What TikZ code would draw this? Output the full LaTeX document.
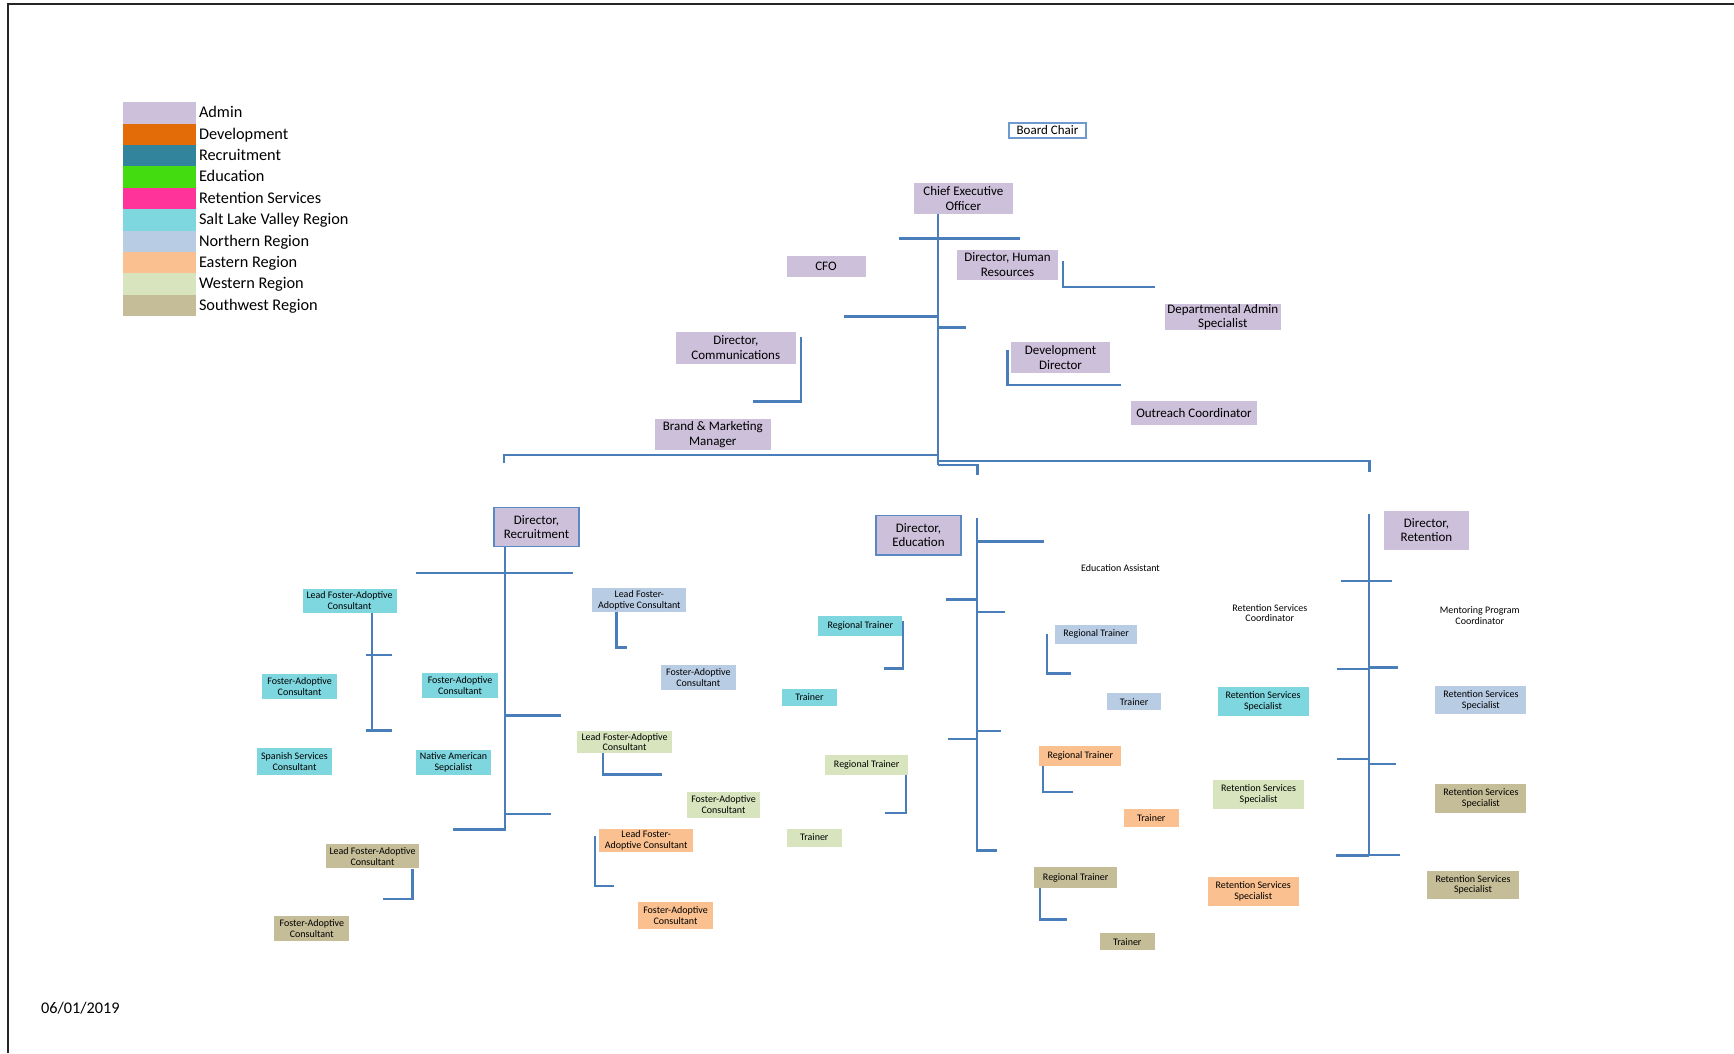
\documentclass[tikz,border=0pt]{standalone}
\usepackage{fontspec}
\setmainfont{Carlito}
\definecolor{admin}{HTML}{CCC0DA}
\definecolor{devel}{HTML}{E36C09}
\definecolor{recr}{HTML}{31849B}
\definecolor{educ}{HTML}{43DC10}
\definecolor{retn}{HTML}{FF3399}
\definecolor{slv}{HTML}{7ED6DF}
\definecolor{north}{HTML}{B8CCE4}
\definecolor{east}{HTML}{FAC08F}
\definecolor{west}{HTML}{D7E4BD}
\definecolor{swr}{HTML}{C4BD97}
\definecolor{linec}{HTML}{4A7EBB}
\definecolor{bcb}{HTML}{6F9AD0}
\definecolor{dirb}{HTML}{5B87C2}
\tikzset{
  bx/.style={rectangle, inner sep=0pt, outer sep=0pt, align=center, text=black},
  topf/.style={font=\fontsize{13}{14.5}\selectfont},
  lowf/.style={font=\fontsize{10}{10.8}\selectfont},
  legf/.style={font=\fontsize{16.3}{18}\selectfont},
  sz/.style 2 args={minimum width=#1pt, minimum height=#2pt},
  conn/.style={draw=linec, line width=2.4pt},
  dirbox/.style={draw=dirb, line width=1.5pt},
}
\begin{document}
\begin{tikzpicture}[x=1pt,y=-1pt]
\useasboundingbox (0,0) rectangle (1734,1053);
\fill[white] (0,0) rectangle (1734,1053);
% frame
\coordinate (fTL) at (7.7,3.7);
\coordinate (fTR) at (1734,3.7);
\coordinate (fBL) at (7.7,1053);
\draw[black!85, line width=2pt] (fTR) -- (fTL) -- (fBL);

% legend
\foreach \i/\c/\t in {0/admin/Admin,1/devel/Development,2/recr/Recruitment,3/educ/Education,4/retn/Retention Services,5/slv/Salt Lake Valley Region,6/north/Northern Region,7/east/Eastern Region,8/west/Western Region,9/swr/Southwest Region}{
  \node[bx, fill=\c, sz={73}{21.4}] (sw\i) at (159.5,{113+21.37*\i}) {};
  \node[bx, legf, anchor=base west] (lt\i) at (199,{117.8+21.37*\i}) {\t};
}

% date
\node[bx, legf, anchor=base west] (date) at (41,1013.3) {06/01/2019};

% top level
\node[bx,topf,sz={77}{15},fill=white,draw=bcb,line width=1.3pt] (board) at (1047.5,130.5) {Board Chair};
\node[bx,topf,sz={99.5}{30.5},fill=admin] (ceo) at (963.3,198.3) {Chief Executive\\Officer};
\node[bx,topf,sz={79}{21.5},fill=admin] (cfo) at (826,266.3) {CFO};
\node[bx,topf,sz={101}{30.5},fill=admin] (hr) at (1007.5,264.8) {Director, Human\\Resources};
\node[bx,topf,sz={116.5}{26},fill=admin] (das) at (1222.8,317) {Departmental Admin\\Specialist};
\node[bx,topf,sz={119.5}{32},fill=admin] (comms) at (735.8,347.5) {Director,\\Communications};
\node[bx,topf,sz={99}{31},fill=admin] (devdir) at (1060.5,357.5) {Development\\Director};
\node[bx,topf,sz={126}{24.5},fill=admin] (outreach) at (1194,412.8) {Outreach Coordinator};
\node[bx,topf,sz={116.5}{31},fill=admin] (brand) at (712.8,434.5) {Brand \& Marketing\\Manager};

% directors
\node[bx,topf,sz={85}{39},fill=admin,dirbox] (drec) at (536.5,527) {Director,\\Recruitment};
\node[bx,topf,sz={85}{39.7},fill=admin,dirbox] (dedu) at (918.5,535.2) {Director,\\Education};
\node[bx,topf,sz={84.4}{38.5},fill=admin] (dret) at (1426.5,530.3) {Director,\\Retention};

% recruitment staff
\node[bx,lowf,sz={94}{24},fill=slv] (lfaslv) at (349.5,600.5) {Lead Foster-Adoptive\\Consultant};
\node[bx,lowf,sz={74.8}{25.2},fill=slv] (faslva) at (299.6,686.6) {Foster-Adoptive\\Consultant};
\node[bx,lowf,sz={75.4}{25.3},fill=slv] (faslvb) at (460,685.7) {Foster-Adoptive\\Consultant};
\node[bx,lowf,sz={75}{26.7},fill=slv] (spanish) at (294.5,761.7) {Spanish Services\\Consultant};
\node[bx,lowf,sz={75}{25},fill=slv] (native) at (453.5,762.5) {Native American\\Sepcialist};
\node[bx,lowf,sz={93.6}{24},fill=swr] (lfasw) at (372.5,856.3) {Lead Foster-Adoptive\\Consultant};
\node[bx,lowf,sz={75}{25.3},fill=swr] (fasw) at (311.8,928.3) {Foster-Adoptive\\Consultant};
\node[bx,lowf,sz={94}{24},fill=north] (lfan) at (639.3,600) {Lead Foster-\\Adoptive Consultant};
\node[bx,lowf,sz={75.3}{25.3},fill=north] (fan) at (698.3,677.7) {Foster-Adoptive\\Consultant};
\node[bx,lowf,sz={94.4}{22.6},fill=west] (lfaw) at (624.5,742) {Lead Foster-Adoptive\\Consultant};
\node[bx,lowf,sz={73}{26.5},fill=west] (faw) at (723.5,804.8) {Foster-Adoptive\\Consultant};
\node[bx,lowf,sz={94.3}{22.4},fill=east] (lfae) at (646.2,840.5) {Lead Foster-\\Adoptive Consultant};
\node[bx,lowf,sz={75.6}{26.7},fill=east] (fae) at (675.5,915.7) {Foster-Adoptive\\Consultant};

% education staff
\node[bx,lowf,sz={84}{19.5},fill=slv] (rtslv) at (860.3,625.8) {Regional Trainer};
\node[bx,lowf,sz={55}{17.6},fill=slv] (trslv) at (809.5,697.5) {Trainer};
\node[bx,lowf,sz={83}{20},fill=west] (rtw) at (866.7,765) {Regional Trainer};
\node[bx,lowf,sz={55.5}{18},fill=west] (trw) at (814.3,837.5) {Trainer};
\node[bx,lowf,sz={81.8}{19.3},fill=north] (rtn) at (1096.1,634.2) {Regional Trainer};
\node[bx,lowf,sz={54.2}{16.6},fill=north] (trn) at (1134.1,701.7) {Trainer};
\node[bx,lowf,sz={81.9}{19.5},fill=east] (rte) at (1080.3,755.8) {Regional Trainer};
\node[bx,lowf,sz={54.5}{17.5},fill=east] (tre) at (1151.3,817.8) {Trainer};
\node[bx,lowf,sz={83.3}{20.8},fill=swr] (rtsw) at (1075.7,877.6) {Regional Trainer};
\node[bx,lowf,sz={55.1}{17.2},fill=swr] (trsw) at (1127.3,941.6) {Trainer};
\node[bx,lowf] (eduasst) at (1120.5,567.8) {Education Assistant};

% retention staff
\node[bx,lowf] (rsc) at (1269.8,613) {Retention Services\\Coordinator};
\node[bx,lowf] (mpc) at (1479.8,615.3) {Mentoring Program\\Coordinator};
\node[bx,lowf,sz={91}{28.3},fill=slv] (rssslv) at (1263,701.5) {Retention Services\\Specialist};
\node[bx,lowf,sz={90.9}{28.4},fill=north] (rssn) at (1480.9,700.2) {Retention Services\\Specialist};
\node[bx,lowf,sz={90.8}{28.5},fill=west] (rssw) at (1258.6,794.5) {Retention Services\\Specialist};
\node[bx,lowf,sz={90.9}{29.2},fill=swr] (rssswa) at (1480.9,798.1) {Retention Services\\Specialist};
\node[bx,lowf,sz={90.9}{28.4},fill=east] (rsse) at (1253.2,891.6) {Retention Services\\Specialist};
\node[bx,lowf,sz={91.1}{28.3},fill=swr] (rssswb) at (1473,884.9) {Retention Services\\Specialist};

% connectors: CEO
\draw[conn] (938,213.5) -- (938,465);
\draw[conn] (899,238.5) -- (1020,238.5);
\draw[conn] (1063,261) -- (1063,286.7) -- (1155,286.7);
\draw[conn] (844,316.5) -- (938,316.5);
\draw[conn] (938,327.3) -- (966.3,327.3);
\draw[conn] (800.8,337.3) -- (800.8,401.5) -- (752.5,401.5);
\draw[conn] (1007.5,350) -- (1007.5,385) -- (1120.5,385);
\draw[conn] (504,463.4) -- (504,455) -- (938,455);
\draw[conn] (938,460.7) -- (1369.5,460.7) -- (1369.5,471.5);
\draw[conn] (938,464.7) -- (977.3,464.7) -- (977.3,475);

% recruitment
\draw[conn] (504.7,546.5) -- (504.7,829.3) -- (453.3,829.3);
\draw[conn] (415.7,573) -- (573.2,573);
\draw[conn] (504.7,715.6) -- (561,715.6);
\draw[conn] (504.7,814.2) -- (551.2,814.2);
\draw[conn] (372.2,612.5) -- (372.2,732);
\draw[conn] (365.5,654.8) -- (391.6,654.8);
\draw[conn] (365.5,730.4) -- (391.6,730.4);
\draw[conn] (412.3,868.5) -- (412.3,899.2) -- (383,899.2);
\draw[conn] (616.3,612) -- (616.3,647.3) -- (627,647.3);
\draw[conn] (602.7,753.3) -- (602.7,774.5) -- (661.7,774.5);
\draw[conn] (595,835.5) -- (595,886) -- (613.5,886);

% education
\draw[conn] (902.8,621) -- (902.8,668.5) -- (884,668.5);
\draw[conn] (906,775) -- (906,813) -- (884.7,813);
\draw[conn] (977,518.2) -- (977,850.5) -- (997,850.5);
\draw[conn] (977,541.3) -- (1044.2,541.3);
\draw[conn] (945.5,599.4) -- (977,599.4);
\draw[conn] (977,611.8) -- (1005,611.8);
\draw[conn] (977,730.8) -- (1001,730.8);
\draw[conn] (947.9,738.7) -- (977,738.7);
\draw[conn] (1047.2,633.5) -- (1047.2,673.6) -- (1071.4,673.6);
\draw[conn] (1042.8,765.5) -- (1042.8,792.2) -- (1073.4,792.2);
\draw[conn] (1040,888) -- (1040,919.5) -- (1067.3,919.5);

% retention
\draw[conn] (1369,514.2) -- (1369,856);
\draw[conn] (1340.7,580.7) -- (1392.2,580.7);
\draw[conn] (1337,668.7) -- (1369,668.7);
\draw[conn] (1369,667.5) -- (1397.5,667.5);
\draw[conn] (1337,758.8) -- (1369,758.8);
\draw[conn] (1369,763.7) -- (1395.7,763.7);
\draw[conn] (1335.7,855.5) -- (1369,855.5);
\draw[conn] (1369,854.7) -- (1400.2,854.7);
\end{tikzpicture}
\end{document}
